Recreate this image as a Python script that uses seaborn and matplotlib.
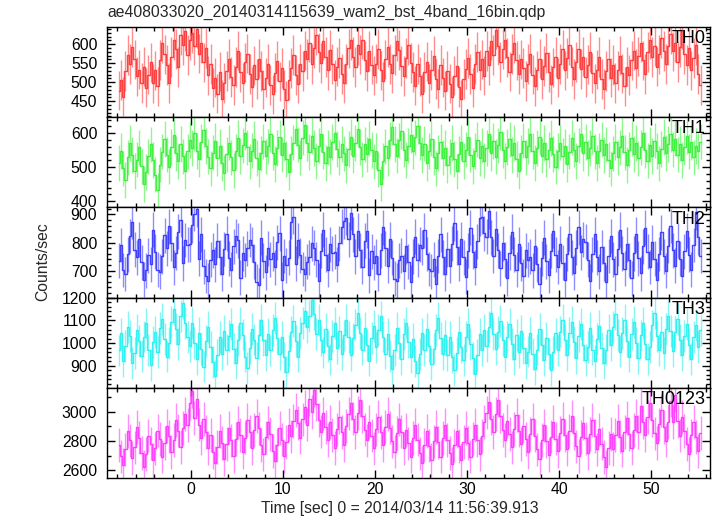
import numpy as np
import pandas as pd
import matplotlib
matplotlib.use("Agg")
import matplotlib.pyplot as plt
import seaborn as sns
from matplotlib.ticker import MultipleLocator

# ---------------- data ----------------
TITLE = "ae408033020_20140314115639_wam2_bst_4band_16bin.qdp"
XLABEL = "Time [sec] 0 = 2014/03/14 11:56:39.913"
YLABEL = "Counts/sec"
T_START = -8.0          # start of first bin [s]
BIN_SEC = 0.25          # 16 x 1/64 s bins

band_names = ["TH0", "TH1", "TH2", "TH3", "TH0123"]

th0 = [
    478, 505, 462, 530, 571, 548, 592, 560, 515, 533, 498, 541, 486, 520, 552, 497,
    531, 489, 558, 602, 573, 545, 498, 566, 611, 587, 540, 623, 598, 634, 572, 610,
    628, 596, 641, 575, 603, 552, 590, 518, 547, 486, 512, 470, 528, 455, 498, 530,
    561, 514, 493, 540, 583, 526, 498, 552, 575, 521, 487, 544, 509, 562, 530, 481,
    512, 547, 493, 468, 525, 556, 502, 537, 481, 452, 506, 538, 571, 519, 496, 548,
    529, 583, 561, 604, 547, 590, 623, 578, 551, 609, 566, 532, 585, 548, 506, 541,
    563, 522, 497, 548, 589, 611, 566, 540, 598, 573, 612, 557, 530, 582, 546, 518,
    549, 587, 531, 502, 560, 593, 548, 523, 571, 607, 584, 542, 516, 563, 598, 551,
    527, 491, 548, 515, 470, 526, 554, 497, 532, 569, 508, 483, 545, 512, 478, 530,
    496, 461, 517, 542, 488, 455, 509, 534, 563, 521, 486, 547, 579, 532, 560, 517,
    582, 544, 609, 571, 638, 596, 553, 587, 612, 565, 528, 574, 603, 557, 521, 560,
    538, 503, 547, 575, 520, 489, 531, 562, 508, 543, 577, 526, 494, 539, 566, 512,
    548, 586, 531, 564, 597, 541, 509, 553, 588, 535, 567, 514, 546, 579, 524, 497,
    533, 566, 508, 482, 529, 561, 512, 545, 498, 531, 570, 523, 489, 541, 519, 557,
    583, 536, 568, 604, 557, 521, 579, 612, 566, 594, 541, 573, 615, 582, 547, 596,
    627, 581, 604, 553, 592, 638, 574, 545, 589, 531, 563, 598, 522, 493,
]

th1 = [
    512, 548, 497, 463, 529, 571, 536, 489, 522, 558, 503, 451, 486, 532, 567, 521,
    478, 432, 508, 546, 583, 537, 502, 559, 594, 541, 517, 568, 532, 489, 547, 580,
    556, 601, 548, 523, 574, 609, 562, 531, 497, 543, 578, 526, 561, 512, 484, 538,
    572, 529, 491, 547, 586, 533, 564, 602, 558, 517, 549, 583, 527, 494, 541, 576,
    532, 561, 598, 543, 509, 556, 588, 537, 571, 524, 486, 539, 572, 613, 566, 528,
    587, 624, 571, 545, 592, 557, 518, 563, 597, 546, 512, 558, 531, 574, 602, 553,
    529, 568, 541, 506, 553, 589, 534, 571, 612, 559, 523, 567, 538, 584, 551, 517,
    548, 493, 452, 518, 561, 527, 581, 617, 568, 534, 579, 606, 552, 521, 563, 594,
    547, 588, 621, 572, 536, 569, 513, 548, 584, 530, 497, 542, 575, 528, 556, 507,
    532, 571, 524, 488, 539, 573, 518, 552, 589, 537, 504, 548, 581, 526, 563, 519,
    556, 598, 542, 577, 531, 564, 603, 551, 518, 559, 582, 536, 571, 524, 489, 543,
    578, 529, 562, 597, 548, 513, 556, 589, 534, 571, 523, 551, 586, 539, 502, 548,
    572, 534, 561, 509, 546, 587, 552, 518, 563, 598, 541, 574, 527, 556, 592, 547,
    513, 549, 581, 536, 567, 522, 497, 541, 574, 529, 558, 593, 544, 506, 552, 585,
    539, 571, 526, 558, 602, 551, 519, 566, 533, 578, 548, 511, 553, 589, 542, 568,
    597, 552, 584, 537, 569, 521, 558, 591, 546, 573, 529, 562, 548, 575,
]

th2 = [
    736, 791, 702, 688, 758, 823, 874, 774, 747, 812, 730, 668, 701, 754, 722, 845,
    768, 703, 696, 751, 826, 779, 858, 797, 712, 763, 838, 881, 726, 809, 792, 794,
    861, 903, 918, 742, 829, 716, 681, 664, 739, 772, 723, 806, 748, 689, 777, 832,
    744, 703, 786, 823, 808, 675, 762, 738, 779, 809, 792, 731, 661, 648, 817, 736,
    694, 779, 741, 762, 712, 801, 833, 667, 752, 719, 746, 873, 891, 724, 808, 755,
    706, 689, 732, 748, 797, 781, 739, 664, 771, 846, 757, 702, 793, 761, 768, 721,
    798, 857, 876, 889, 812, 906, 829, 751, 842, 773, 714, 806, 842, 683, 769, 728,
    751, 689, 772, 854, 779, 718, 811, 746, 671, 664, 737, 753, 697, 786, 731, 658,
    749, 821, 738, 792, 781, 844, 759, 706, 698, 741, 654, 752, 829, 747, 689, 776,
    718, 796, 869, 783, 724, 812, 748, 679, 771, 852, 767, 712, 804, 887, 892, 833,
    821, 911, 818, 752, 849, 773, 708, 797, 741, 672, 764, 838, 756, 703, 794, 726,
    681, 772, 739, 749, 701, 786, 722, 651, 744, 817, 733, 684, 771, 842, 757, 713,
    796, 728, 667, 759, 832, 748, 693, 781, 854, 766, 811, 803, 739, 662, 758, 829,
    747, 698, 784, 726, 659, 752, 823, 741, 689, 778, 846, 762, 707, 793, 738, 672,
    761, 829, 744, 691, 786, 853, 768, 713, 801, 742, 667, 759, 836, 751, 699, 788,
    859, 772, 718, 806, 743, 681, 769, 842, 757, 703, 791, 908, 819, 752,
]

th3 = [
    968, 1043, 921, 987, 1071, 1032, 912, 956, 1058, 1011, 944, 1029, 1087, 969, 903, 1004,
    1049, 962, 1068, 1107, 1019, 941, 1002, 1094, 1152, 1063, 996, 1121, 1178, 1089, 1026, 987,
    1091, 1002, 931, 1046, 973, 897, 1011, 1072, 984, 918, 856, 949, 1027, 951, 1053, 972,
    1031, 1083, 976, 911, 1012, 1089, 1038, 941, 889, 978, 1061, 1016, 933, 1037, 1103, 1012,
    947, 1039, 968, 1057, 1112, 1024, 953, 1028, 937, 872, 964, 1051, 1098, 1009, 941, 1046,
    1089, 1141, 1072, 1121, 1192, 1128, 1041, 1103, 1012, 959, 1061, 987, 928, 1032, 1088, 979,
    1052, 951, 1034, 1101, 1027, 946, 1021, 1082, 1131, 1044, 972, 1068, 991, 923, 1024, 1077,
    981, 1059, 1118, 1029, 954, 1041, 943, 884, 971, 1066, 1002, 931, 1039, 1091, 1006, 937,
    1017, 921, 868, 952, 1043, 971, 1061, 988, 909, 976, 1057, 1113, 1024, 953, 1034, 947,
    1028, 939, 881, 958, 1051, 981, 926, 1029, 1086, 997, 934, 862, 947, 1039, 969, 1058,
    989, 1072, 1134, 1041, 974, 1051, 1099, 1012, 941, 1027, 1083, 996, 929, 1036, 962, 1054,
    978, 914, 963, 1046, 951, 887, 972, 1061, 992, 926, 1024, 954, 881, 961, 1043, 968,
    1051, 1104, 1013, 949, 1046, 1093, 1004, 934, 1031, 1084, 993, 927, 983, 1067, 972, 921,
    1017, 1076, 979, 913, 972, 1059, 991, 1071, 1128, 1036, 963, 1046, 1101, 1008, 941, 1039,
    1094, 1001, 934, 1034, 1089, 996, 931, 984, 1078, 1132, 1031, 969, 1048, 958, 1061, 1118,
    1054, 967, 1049, 1107, 1013, 949, 1031, 1086, 994, 931, 1027, 1081, 984, 1056,
]

th0123 = [
    2771, 2694, 2638, 2742, 2869, 2803, 2681, 2756, 2897, 2822, 2718, 2621, 2709, 2836, 2781, 2668,
    2749, 2871, 2812, 2692, 2784, 2903, 2831, 2723, 2806, 2942, 2871, 2758, 2889, 2982, 2907, 3056,
    3141, 2956, 3089, 2911, 2819, 2948, 2862, 2753, 2841, 2722, 2651, 2758, 2869, 2786, 2673, 2779,
    2891, 2803, 2697, 2812, 2926, 2841, 2724, 2823, 2944, 2863, 2752, 2876, 2971, 2886, 2771, 2707,
    2824, 2927, 2848, 2731, 2663, 2771, 2889, 2809, 2694, 2791, 2912, 2831, 2934, 3012, 2921, 2822,
    2947, 3034, 2912, 3087, 2996, 3148, 3052, 2941, 2863, 2988, 2897, 2806, 2931, 2842, 2751, 2879,
    2963, 2862, 2771, 2902, 2987, 3061, 2953, 2861, 2989, 3078, 2968, 2877, 2803, 2929, 2836, 2748,
    2878, 2966, 2861, 2769, 2893, 2984, 2891, 2796, 2727, 2852, 2947, 2863, 2749, 2874, 2783, 2693,
    2818, 2911, 2809, 2714, 2648, 2772, 2869, 2768, 2671, 2796, 2893, 2789, 2693, 2818, 2912, 2806,
    2716, 2641, 2769, 2867, 2763, 2669, 2791, 2889, 2784, 2692, 2812, 2908, 2803, 2711, 2834, 2931,
    2993, 3068, 2952, 2861, 2984, 3081, 2967, 2874, 2807, 2936, 2849, 2756, 2882, 2977, 2871, 2779,
    2903, 2811, 2723, 2849, 2947, 2836, 2742, 2679, 2808, 2906, 2797, 2702, 2829, 2928, 2816, 2728,
    2852, 2948, 2837, 2746, 2869, 2967, 2856, 2762, 2698, 2827, 2923, 2817, 2719, 2847, 2944, 2833,
    2742, 2878, 2781, 2689, 2622, 2751, 2848, 2743, 2841, 2937, 2829, 2734, 2861, 2958, 2847, 2752,
    2876, 2973, 2862, 3041, 2931, 2841, 2962, 3058, 2943, 2851, 2786, 2913, 3009, 2896, 2802, 2928,
    3076, 2931, 3112, 2938, 2836, 2963, 2869, 2777, 2709, 2838, 2931, 2826, 2731, 2856,
]

# typical 1-sigma error bar half-length per band (counts/sec)
band_errors = [52, 52, 62, 70, 115]

band_values = [th0, th1, th2, th3, th0123]
band_ylims = [(408, 645), (382, 647), (604, 925), (803, 1201), (2546, 3163)]
band_major = [50, 100, 100, 100, 200]
band_minor = [10, 20, 20, 20, 100]
band_colors = ["#ff3030", "#30f030", "#3030ff", "#20f0f0", "#ff30ff"]

# ---------------- style ----------------
sns.set_style("ticks")
plt.rcParams["font.family"] = ["Liberation Sans", "DejaVu Sans"]
plt.rcParams["font.size"] = 11.3

fig, axes = plt.subplots(5, 1, sharex=True, figsize=(7.17, 5.16), dpi=100)
fig.subplots_adjust(left=0.1492, right=0.9902, top=0.9477, bottom=0.0736, hspace=0)

for ax, name, vals, err, ylim, maj, mnr, col in zip(
        axes, band_names, band_values, band_errors, band_ylims,
        band_major, band_minor, band_colors):
    n = len(vals)
    df = pd.DataFrame({
        "time": T_START + BIN_SEC * (np.arange(n) + 0.5),
        "rate": vals,
    })
    ax.errorbar(df["time"], df["rate"], yerr=err, fmt="none",
                ecolor=col, elinewidth=1.0, alpha=0.55, zorder=2)
    sns.lineplot(data=df, x="time", y="rate", ax=ax, color=col,
                 drawstyle="steps-mid", lw=1.0, alpha=0.9,
                 estimator=None, zorder=3)
    ax.set_ylim(*ylim)
    ax.set_xlim(-9.13, 56.4)
    ax.yaxis.set_major_locator(MultipleLocator(maj))
    ax.yaxis.set_minor_locator(MultipleLocator(mnr))
    ax.xaxis.set_major_locator(MultipleLocator(10))
    ax.xaxis.set_minor_locator(MultipleLocator(2))
    ax.tick_params(which="both", direction="in", top=True, right=True,
                   colors="black", width=1.0, labelsize=11.3)
    ax.tick_params(which="major", length=6)
    ax.tick_params(which="minor", length=3)
    ax.tick_params(axis="y", pad=7)
    ax.tick_params(axis="x", pad=3)
    ax.set_xlabel("")
    ax.set_ylabel("")
    for sp in ax.spines.values():
        sp.set_visible(True)
        sp.set_color("black")
        sp.set_linewidth(1.0)
    ax.text(0.993, 0.965, name, transform=ax.transAxes, ha="right", va="top",
            fontsize=13, color="black")

fig.text(0.1492, 1 - 12 / 516, TITLE, ha="left", va="center", fontsize=11.3)
fig.text(43 / 717, 1 - 262 / 516, YLABEL, rotation=90, ha="center",
         va="center", fontsize=11.3)
fig.text(0.5575, 1 - 508 / 516, XLABEL, ha="center", va="center", fontsize=11.3)

fig.savefig("out.png", dpi=100)
